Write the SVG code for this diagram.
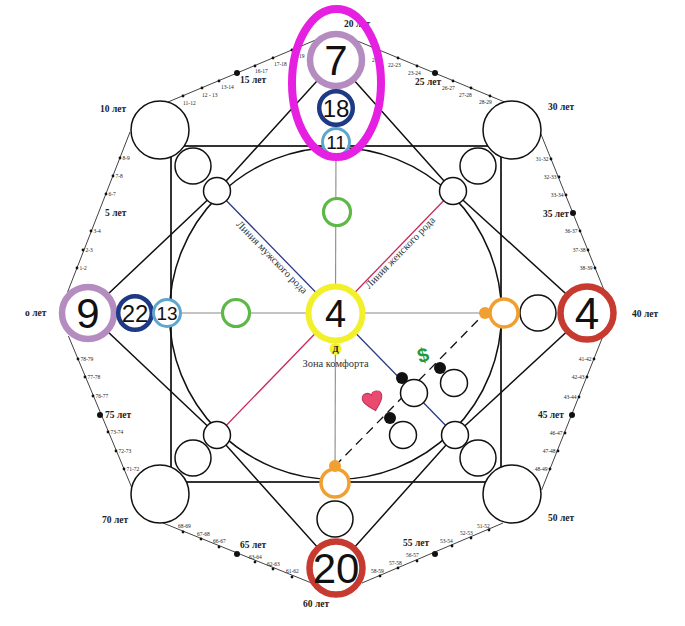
<svg xmlns="http://www.w3.org/2000/svg" width="685" height="626" viewBox="0 0 685 626">
<defs>
<style>
.oct{stroke:#111;stroke-width:0.8;fill:none}
.d{fill:#111}
.t{font-family:"Liberation Serif","Times New Roman",serif;font-size:5.5px;fill:#222}
.e{text-anchor:end}
.age{font-family:"Liberation Serif","Times New Roman",serif;font-size:9.5px;font-weight:bold;fill:#222}
.num{font-family:"Liberation Sans",Arial,sans-serif;fill:#111;text-anchor:middle}
.wc{fill:#fff;stroke:#111;stroke-width:1.5}
.ln{stroke:#111;stroke-width:1.5;fill:none}
.ax{stroke:#8a8a8a;stroke-width:1.1;fill:none}
.lav{fill:#fff;stroke:#b48cc0;stroke-width:6.5}
.navy{fill:#fff;stroke:#1e3a85;stroke-width:4.5}
.lb{fill:#fff;stroke:#5ea6cc;stroke-width:3}
.red{fill:#fff;stroke:#c63a30;stroke-width:6.5}
.grn{fill:#fff;stroke:#5db847;stroke-width:3.2}
.org{fill:#fff;stroke:#f0a030;stroke-width:3.5}
.lbl{font-family:"Liberation Serif","Times New Roman",serif;font-size:10.5px;fill:#333}
</style>
</defs>
<rect width="685" height="626" fill="#fff"/>

<g id="age-scale">
<polyline class="oct" points="67.6,292 130,132"/>
<polyline class="oct" points="168,102 318,39"/>
<polyline class="oct" points="355,40 507,103"/>
<polyline class="oct" points="540.5,133 604,290"/>
<polyline class="oct" points="603,336 541.6,490"/>
<polyline class="oct" points="503,523 362,583"/>
<polyline class="oct" points="314,584 163,523"/>
<polyline class="oct" points="68.4,336 132.8,490"/>

<g class="d">
<circle cx="77" cy="268" r="1.4"/><circle cx="83" cy="250" r="1.4"/><circle cx="91" cy="231" r="1.4"/><circle cx="106" cy="194" r="1.4"/><circle cx="113" cy="176" r="1.4"/><circle cx="120" cy="158" r="1.4"/>
<circle cx="183" cy="96" r="1.4"/><circle cx="202" cy="88" r="1.4"/><circle cx="219" cy="81" r="1.4"/><circle cx="237" cy="73" r="3"/><circle cx="255" cy="66" r="1.4"/><circle cx="273" cy="58" r="1.4"/><circle cx="292" cy="50" r="1.4"/>
<circle cx="398" cy="58" r="1.4"/><circle cx="417" cy="66" r="1.4"/><circle cx="435" cy="73" r="3"/><circle cx="453" cy="81" r="1.4"/><circle cx="471" cy="88" r="1.4"/><circle cx="490" cy="96" r="1.4"/>
<circle cx="551" cy="159" r="1.4"/><circle cx="559" cy="177" r="1.4"/><circle cx="566" cy="195" r="1.4"/><circle cx="573" cy="213" r="3"/><circle cx="580" cy="231" r="1.4"/><circle cx="588" cy="250" r="1.4"/><circle cx="595" cy="268" r="1.4"/>
<circle cx="594" cy="359" r="1.4"/><circle cx="587" cy="377" r="1.4"/><circle cx="579" cy="397" r="1.4"/><circle cx="572" cy="415" r="3"/><circle cx="565" cy="433" r="1.4"/><circle cx="558" cy="451" r="1.4"/><circle cx="550" cy="469" r="1.4"/>
<circle cx="489" cy="530" r="1.4"/><circle cx="471" cy="538" r="1.4"/><circle cx="452" cy="546" r="1.4"/><circle cx="435" cy="554" r="3"/><circle cx="417" cy="561" r="1.4"/><circle cx="398" cy="568" r="1.4"/><circle cx="380" cy="576" r="1.4"/>
<circle cx="292" cy="577" r="1.4"/><circle cx="273" cy="569" r="1.4"/><circle cx="255" cy="562" r="1.4"/><circle cx="237" cy="554" r="3"/><circle cx="219" cy="547" r="1.4"/><circle cx="201" cy="539" r="1.4"/><circle cx="183" cy="532" r="1.4"/>
<circle cx="78" cy="359" r="1.4"/><circle cx="85" cy="377" r="1.4"/><circle cx="93" cy="396" r="1.4"/><circle cx="100" cy="415" r="3"/><circle cx="108" cy="432" r="1.4"/><circle cx="116" cy="451" r="1.4"/><circle cx="124" cy="469" r="1.4"/>
</g>

<g class="t">
<text x="79.5" y="270">1-2</text><text x="85.5" y="252">2-3</text><text x="93.5" y="233">3-4</text><text x="108.5" y="196">6-7</text><text x="115.5" y="178">7-8</text><text x="122.5" y="160">8-9</text>
<text x="183" y="105">11-12</text><text x="202" y="97">12 - 13</text><text x="221" y="89">13-14</text><text x="255" y="73">16-17</text><text x="274" y="66">17-18</text><text x="299" y="58">19</text>
<text x="372" y="62">21</text><text x="388" y="67">22-23</text><text x="408" y="75">23-24</text><text x="442" y="90">26-27</text><text x="459" y="97">27-28</text><text x="479" y="104">28-29</text>
<text class="e" x="548.5" y="161">31-32</text><text class="e" x="556.5" y="179">32-33</text><text class="e" x="563.5" y="197">33-34</text><text class="e" x="577.5" y="233">36-37</text><text class="e" x="585.5" y="252">37-38</text><text class="e" x="592.5" y="270">38-39</text>
<text class="e" x="591.5" y="361">41-42</text><text class="e" x="584.5" y="379">42-43</text><text class="e" x="576.5" y="399">43-44</text><text class="e" x="562.5" y="435">46-47</text><text class="e" x="555.5" y="453">47-48</text><text class="e" x="547.5" y="471">48-49</text>
<text x="477" y="527.5">51-52</text><text x="460" y="535">52-53</text><text x="440" y="543">53-54</text><text x="406" y="557">56-57</text><text x="389" y="565">57-58</text><text x="371" y="573">58-59</text>
<text x="286" y="573">61-62</text><text x="267" y="566">62-63</text><text x="249" y="559">63-64</text><text x="213" y="543">66-67</text><text x="197" y="536">67-68</text><text x="178" y="528">68-69</text>
<text x="80.5" y="361">78-79</text><text x="87.5" y="379">77-78</text><text x="95.5" y="398">76-77</text><text x="110.5" y="434">73-74</text><text x="118.5" y="453">72-73</text><text x="126.5" y="471">71-72</text>
</g>

<g class="age">
<text x="25" y="316">o лет</text>
<text x="105" y="216">5 лет</text>
<text x="100" y="112">10 лет</text>
<text x="240" y="83">15 лет</text>
<text x="344" y="27">20 лет</text>
<text x="415" y="85">25 лет</text>
<text x="548" y="110">30 лет</text>
<text class="e" x="569" y="217">35 лет</text>
<text x="632" y="317">40 лет</text>
<text class="e" x="564" y="418">45 лет</text>
<text x="548" y="521">50 лет</text>
<text x="403" y="546">55 лет</text>
<text x="303" y="607">60 лет</text>
<text x="240" y="548">65 лет</text>
<text x="102" y="523">70 лет</text>
<text x="105" y="418">75 лет</text>
</g>
</g>

<g id="connectors">
<rect x="171" y="146" width="330" height="336" fill="none" stroke="#333" stroke-width="2"/>
<circle cx="335.5" cy="313.5" r="166" class="ln"/>
<polygon class="ln" points="336,60 453,191 587,313 455,435 336,568 217,435 88,313 217,191"/>
<line class="ax" x1="167" y1="313" x2="504" y2="313"/>
<line class="ax" x1="336" y1="142" x2="335" y2="483"/>
<line x1="217" y1="191" x2="455" y2="435" stroke="#2b3a8a" stroke-width="1.3"/>
<line x1="453" y1="191" x2="217" y2="435" stroke="#c8285a" stroke-width="1.3"/>
<line x1="335" y1="466" x2="485" y2="313" stroke="#111" stroke-width="1.3" stroke-dasharray="9 6"/>
</g>

<g id="corner-circles">
<circle class="wc" cx="160" cy="130" r="29"/>
<circle class="wc" cx="512" cy="130" r="29"/>
<circle class="wc" cx="160" cy="494" r="29"/>
<circle class="wc" cx="512" cy="494" r="29"/>
<circle class="wc" cx="193" cy="166" r="18"/>
<circle class="wc" cx="478" cy="166" r="18"/>
<circle class="wc" cx="193" cy="458" r="18"/>
<circle class="wc" cx="478" cy="458" r="18"/>
<circle class="wc" cx="217" cy="191" r="13.5"/>
<circle class="wc" cx="453" cy="191" r="13.5"/>
<circle class="wc" cx="217" cy="435" r="13.5"/>
<circle class="wc" cx="455" cy="435" r="13.5"/>
</g>

<g id="node-7"><circle class="lav" cx="336" cy="60" r="26"/><text class="num" x="336" y="75" font-size="42">7</text></g>
<g id="node-18"><circle class="navy" cx="336" cy="108" r="16.8"/><text class="num" x="336" y="116.6" font-size="24">18</text></g>
<g id="node-11"><circle class="lb" cx="336" cy="142" r="13.5"/><text class="num" x="336" y="148.8" font-size="19">11</text></g>

<g id="node-9"><circle class="lav" cx="88" cy="313" r="26"/><text class="num" x="88" y="328" font-size="42">9</text></g>
<g id="node-22"><circle class="navy" cx="135" cy="313" r="16.8"/><text class="num" x="135" y="321.6" font-size="24">22</text></g>
<g id="node-13"><circle class="lb" cx="167" cy="313" r="13.5"/><text class="num" x="167" y="319.8" font-size="19">13</text></g>

<g id="node-4-right"><circle class="red" cx="587" cy="313" r="26.5"/><text class="num" x="587" y="329" font-size="44">4</text></g>
<g id="node-right-white"><circle class="wc" cx="538" cy="313" r="18"/></g>
<g id="node-right-orange"><circle class="org" cx="504" cy="313" r="14"/><circle cx="485" cy="313" r="6" fill="#f0a030"/></g>

<g id="node-20"><circle class="red" cx="336" cy="568" r="26.5"/><text class="num" x="336" y="583" font-size="42">20</text></g>
<g id="node-bottom-white"><circle class="wc" cx="335" cy="519" r="18"/></g>
<g id="node-bottom-orange"><circle class="org" cx="335" cy="483" r="14"/><circle cx="335" cy="466" r="6" fill="#f0a030"/></g>

<g id="node-green-top"><circle class="grn" cx="337" cy="212" r="13.5"/></g>
<g id="node-green-left"><circle class="grn" cx="236" cy="313" r="13.5"/></g>

<g id="node-center">
<circle cx="335.5" cy="313.5" r="27" fill="#fff" stroke="#f2f02a" stroke-width="6"/>
<text class="num" x="335.5" y="327" font-size="38">4</text>
<circle cx="335.5" cy="349" r="6" fill="#f2f02a"/>
<text x="335.5" y="352" font-family="Liberation Serif, serif" font-size="9" font-weight="bold" text-anchor="middle" fill="#111">Д</text>
<text class="lbl" x="335.5" y="367" text-anchor="middle">Зона комфорта</text>
</g>

<g id="line-labels">
<text class="lbl" text-anchor="middle" transform="translate(269.5,259.5) rotate(46)">Линия мужского рода</text>
<text class="lbl" text-anchor="middle" transform="translate(402.5,255) rotate(-46)">Линия женского рода</text>
</g>

<g id="node-money">
<circle class="wc" cx="454" cy="383" r="13.5"/>
<circle cx="440" cy="368" r="6" fill="#111"/>
<text x="423" y="362" font-family="Liberation Sans, Arial, sans-serif" font-size="20" font-weight="bold" fill="#1f9a40" text-anchor="middle" transform="rotate(-15 423 355)">$</text>
</g>
<g id="node-mid">
<circle class="wc" cx="414" cy="393" r="13.5"/>
<circle cx="402" cy="378" r="6" fill="#111"/>
</g>
<g id="node-love">
<circle class="wc" cx="403" cy="435" r="13.5"/>
<circle cx="390" cy="418" r="6" fill="#111"/>
<path transform="rotate(-15 373 401)" d="M373 411 C368 406 363 402 363 397 C363 393.5 366 392 368.5 392 C371 392 372.5 393.5 373 395.5 C373.5 393.5 375 392 377.5 392 C380 392 383 393.5 383 397 C383 402 378 406 373 411 Z" fill="#e94b70" stroke="#c72a55" stroke-width="1"/>
</g>

<g id="highlight">
<ellipse cx="336.5" cy="83" rx="44.5" ry="74" fill="none" stroke="#e620e0" stroke-width="8"/>
</g>
</svg>
